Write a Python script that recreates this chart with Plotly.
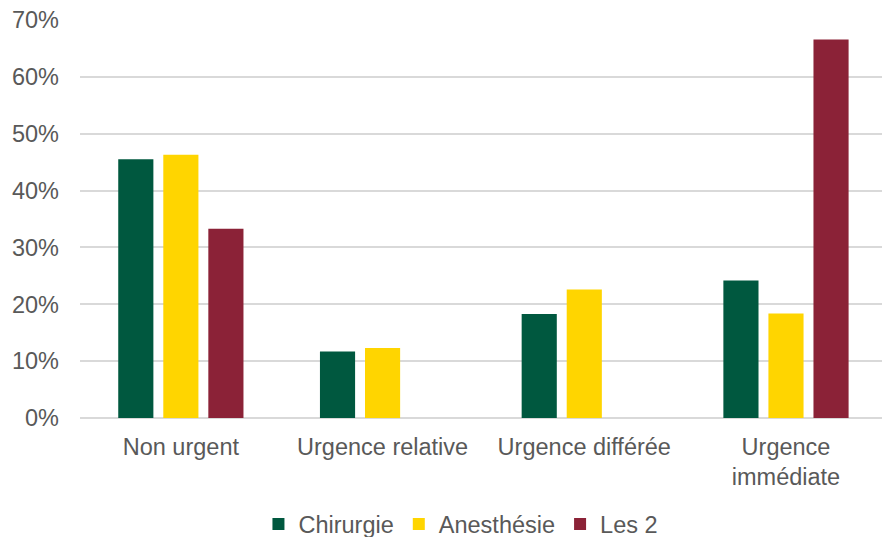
import plotly.graph_objects as go

categories = ["Non urgent", "Urgence relative", "Urgence différée", "Urgence<br>immédiate"]
chirurgie = [0.455, 0.117, 0.183, 0.242]
anesthesie = [0.463, 0.123, 0.226, 0.184]
les2 = [0.333, None, None, 0.666]
y_ticks = [0.0, 0.1, 0.2, 0.3, 0.4, 0.5, 0.6, 0.7]
y_ticklabels = ["0%", "10%", "20%", "30%", "40%", "50%", "60%", "70%"]

series = [
    ("Chirurgie", chirurgie, "#00583F"),
    ("Anesthésie", anesthesie, "#FFD500"),
    ("Les 2", les2, "#8B2237"),
]

fig = go.Figure()
for name, vals, color in series:
    fig.add_trace(go.Bar(name=name, x=categories, y=vals, marker=dict(color=color, line=dict(width=0))))

font_color = "#595959"
fs = 23.5
fig.update_layout(
    width=882, height=537,
    margin=dict(l=80, r=0, t=20, b=119, autoexpand=False),
    paper_bgcolor="white", plot_bgcolor="white",
    barmode="group", bargap=0.33, bargroupgap=0.22,
    font=dict(family="Liberation Sans, Arial, sans-serif", size=fs, color=font_color),
    yaxis=dict(range=[0, 0.7001], tickmode="array", tickvals=y_ticks, ticktext=y_ticklabels,
               showgrid=True, gridcolor="#D9D9D9", gridwidth=1.5, zeroline=True,
               zerolinecolor="#D9D9D9", zerolinewidth=1.5, ticks="", ticklabelstandoff=20,
               fixedrange=True),
    xaxis=dict(showgrid=False, showline=False, ticks="", ticklabelstandoff=12, fixedrange=True,
               range=[-0.5, 3.476]),
    legend=dict(orientation="h", x=0.475, xanchor="center", yref="container", y=0.024, yanchor="middle",
                font=dict(size=fs, color=font_color), itemwidth=30, traceorder="normal"),
    showlegend=True,
)

fig.write_html("out.html", config={"displayModeBar": False},
               post_script="document.body.style.margin='0';document.body.style.overflow='hidden';")
